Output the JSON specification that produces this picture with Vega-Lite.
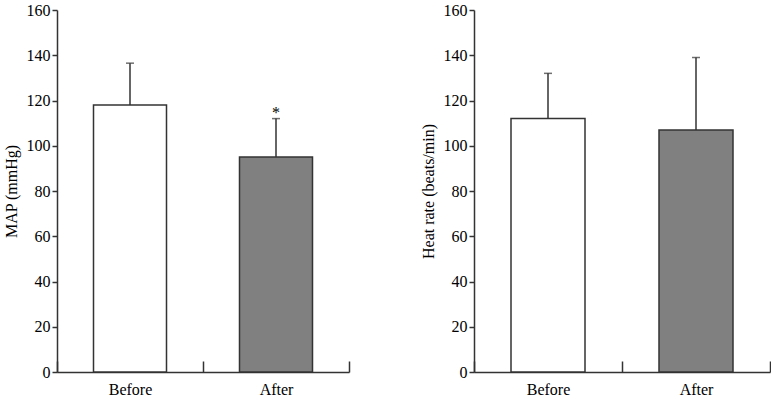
{
  "$schema": "https://vega.github.io/schema/vega-lite/v6.json",
  "padding": {"left": 3, "top": 2, "right": 0, "bottom": 0},
  "background": "white",
  "data": {"values": [
    {"panel": "MAP", "group": "Before", "value": 118, "upper": 136.5, "note": ""},
    {"panel": "MAP", "group": "After", "value": 95, "upper": 112, "note": "*"},
    {"panel": "HR", "group": "Before", "value": 112, "upper": 132, "note": ""},
    {"panel": "HR", "group": "After", "value": 107, "upper": 139, "note": ""}
  ]},
  "spacing": 70,
  "config": {
    "view": {"stroke": null},
    "font": "Liberation Serif",
    "axis": {
      "grid": false,
      "domainColor": "#333333",
      "tickColor": "#333333",
      "labelColor": "#000000",
      "titleColor": "#000000",
      "labelFont": "Liberation Serif",
      "titleFont": "Liberation Serif",
      "labelFontSize": 16,
      "titleFontSize": 16,
      "titleFontWeight": "normal",
      "domainWidth": 1.5,
      "tickWidth": 1.5
    },
    "axisY": {"tickSize": 5, "labelPadding": 2, "minExtent": 31, "maxExtent": 31, "titlePadding": 7, "values": [0, 20, 40, 60, 80, 100, 120, 140, 160]},
    "axisX": {"tickBand": "extent", "tickSize": -11, "labelPadding": 20, "labelAngle": 0, "title": null}
  },
  "hconcat": [
    {
      "width": 292,
      "height": 362,
      "transform": [{"filter": "datum.panel === 'MAP'"}],
      "encoding": {
        "x": {"field": "group", "type": "nominal", "sort": ["Before", "After"], "scale": {"paddingInner": 0, "paddingOuter": 0}, "title": null}
      },
      "layer": [
        {
          "mark": {"type": "rule", "color": "#333333", "strokeWidth": 1.5},
          "encoding": {
            "y": {"field": "value", "type": "quantitative", "scale": {"domain": [0, 160]}, "title": "MAP (mmHg)"},
            "y2": {"field": "upper"}
          }
        },
        {
          "mark": {"type": "tick", "orient": "horizontal", "size": 8, "thickness": 1.5, "color": "#333333"},
          "encoding": {"y": {"field": "upper", "type": "quantitative", "title": "MAP (mmHg)"}}
        },
        {
          "mark": {"type": "bar", "width": {"band": 0.5}, "stroke": "#333333", "strokeWidth": 1.5},
          "encoding": {
            "y": {"field": "value", "type": "quantitative", "title": "MAP (mmHg)"},
            "fill": {"field": "group", "type": "nominal", "scale": {"domain": ["Before", "After"], "range": ["#ffffff", "#808080"]}, "legend": null}
          }
        },
        {
          "mark": {"type": "text", "baseline": "alphabetic", "dy": -1, "fontSize": 16, "font": "Liberation Serif", "color": "#000000"},
          "encoding": {
            "y": {"field": "upper", "type": "quantitative", "title": "MAP (mmHg)"},
            "text": {"field": "note"}
          }
        }
      ]
    },
    {
      "width": 296,
      "height": 362,
      "transform": [{"filter": "datum.panel === 'HR'"}],
      "encoding": {
        "x": {"field": "group", "type": "nominal", "sort": ["Before", "After"], "scale": {"paddingInner": 0, "paddingOuter": 0}, "title": null}
      },
      "layer": [
        {
          "mark": {"type": "rule", "color": "#333333", "strokeWidth": 1.5},
          "encoding": {
            "y": {"field": "value", "type": "quantitative", "scale": {"domain": [0, 160]}, "title": "Heat rate (beats/min)"},
            "y2": {"field": "upper"}
          }
        },
        {
          "mark": {"type": "tick", "orient": "horizontal", "size": 8, "thickness": 1.5, "color": "#333333"},
          "encoding": {"y": {"field": "upper", "type": "quantitative", "title": "Heat rate (beats/min)"}}
        },
        {
          "mark": {"type": "bar", "width": {"band": 0.5}, "stroke": "#333333", "strokeWidth": 1.5},
          "encoding": {
            "y": {"field": "value", "type": "quantitative", "title": "Heat rate (beats/min)"},
            "fill": {"field": "group", "type": "nominal", "scale": {"domain": ["Before", "After"], "range": ["#ffffff", "#808080"]}, "legend": null}
          }
        }
      ]
    }
  ]
}
